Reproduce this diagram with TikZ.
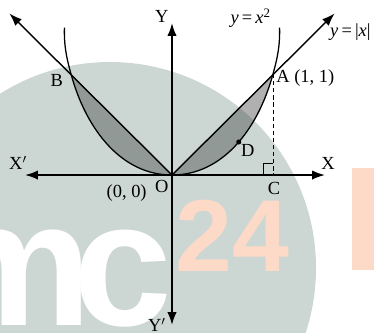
\documentclass[tikz,border=0pt]{standalone}
\usepackage{fontspec}
\setmainfont{Liberation Serif}
\newfontfamily\wmfont{Liberation Sans}
\usetikzlibrary{arrows.meta}
\definecolor{disc}{RGB}{204,214,211}
\definecolor{lensA}{RGB}{176,176,176}
\definecolor{lensB}{RGB}{144,153,149}
\definecolor{wmorange}{RGB}{253,218,200}
\begin{document}
\begin{tikzpicture}[x=2.5cm,y=2.5cm,
  >={Latex[length=9pt,width=6.5pt]},
  lbl/.style={font=\fontsize{13}{15}\selectfont, inner sep=0pt},
  axis/.style={line width=1.2pt, <->},
  crv/.style={line width=0.9pt},
  wm/.style={inner sep=0pt, font=\wmfont\bfseries}]
\useasboundingbox (-1.703,-1.564) rectangle (2.0,1.733);
\clip (-1.703,-1.564) rectangle (2.0,1.733);
% watermark
\fill[disc] (-0.614,-0.921) circle (2.04);
\node[wm, anchor=base east, text=white, font=\wmfont\bfseries\fontsize{125}{125}\selectfont] (wc) at (0.0,-1.485) {c};
\node[wm, anchor=base east, text=white, font=\wmfont\bfseries\fontsize{125}{125}\selectfont] (wmm) at (-0.782,-1.485) {m};
\node[wm, anchor=base west, text=wmorange, font=\wmfont\bfseries\fontsize{72}{72}\selectfont] (w24) at (0.03,-0.96) {24};
\fill[wmorange] (1.782,0.069) rectangle (2.05,-0.94);
% coordinates
\coordinate (O) at (0,0);
\coordinate (A) at (1,1);
\coordinate (B) at (-1,1);
\coordinate (C) at (1,0);
\coordinate (D) at (0.661,0.327);
\coordinate (Pr) at (1.065,1.46);
\coordinate (Pl) at (-1.065,1.46);
\coordinate (Lr) at (1.61,1.60);
\coordinate (Ll) at (-1.61,1.60);
\coordinate (Xr) at (1.515,0);
\coordinate (Xl) at (-1.455,0);
\coordinate (Yt) at (0,1.505);
\coordinate (Yb) at (0,-1.485);
% lens fills
\fill[lensA] (O) -- (A) .. controls (0.85,0.45) and (0.5,0) .. (O);
\begin{scope}
  \clip (-0.614,-0.921) circle (2.04);
  \fill[lensB] (O) -- (A) .. controls (0.85,0.45) and (0.5,0) .. (O);
  \fill[lensB] (O) -- (B) .. controls (-0.85,0.45) and (-0.5,0) .. (O);
\end{scope}
% curve y = x^2
\draw[crv] (Pl) .. controls (-1.07,1.3) and (-1.05,1.18) .. (B)
  .. controls (-0.85,0.45) and (-0.5,0) .. (O)
  .. controls (0.5,0) and (0.85,0.45) .. (A)
  .. controls (1.05,1.18) and (1.07,1.3) .. (Pr);
% y = |x|
\draw[line width=1pt, <->] (Ll) -- (O) -- (Lr);
% axes
\draw[axis] (Xl) -- (Xr);
\draw[axis] (Yb) -- (Yt);
% dashed and right angle
\draw[line width=0.7pt, dash pattern=on 3pt off 2pt] (A) -- (C);
\draw[line width=0.7pt] (C) ++(-0.09,0) -- ++(0,0.11) -- ++(0.09,0);
\fill (D) circle (0.025);
% labels
\node[lbl] (lY) at (-0.10,1.574) {Y};
\node[lbl] (lX1) at (-1.525,0.119) {X$'$};
\node[lbl] (lX) at (1.545,0.119) {X};
\node[lbl] (lY1) at (-0.149,-1.485) {Y$'$};
\node[lbl] (lO) at (-0.102,-0.116) {O};
\node[lbl] (l00) at (-0.449,-0.181) {(0, 0)};
\node[lbl] (lC) at (1.01,-0.13) {C};
\node[lbl] (lD) at (0.75,0.24) {D};
\node[lbl, anchor=west] (lA) at (1.03,0.96) {A (1, 1)};
\node[lbl] (lB) at (-1.14,0.94) {B};
\node[lbl] (lp) at (0.78,1.55) {\textit{y}\,=\,\textit{x}\textsuperscript{2}};
\node[lbl, anchor=west] (ll) at (1.564,1.416) {\textit{y}\,=\,|\textit{x}|};
\end{tikzpicture}
\end{document}
